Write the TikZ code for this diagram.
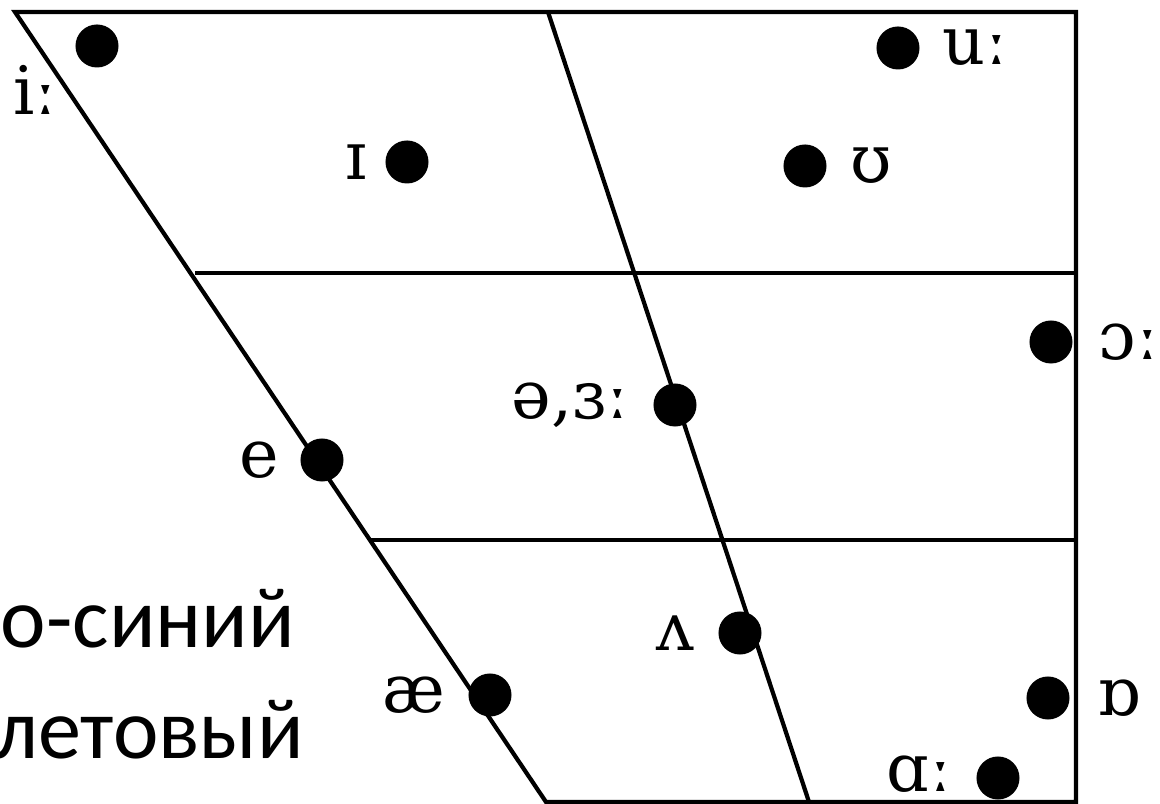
\documentclass[tikz,border=0pt]{standalone}
\usepackage{fontspec}
\newfontfamily\ipafont{DejaVu Serif}
\newfontfamily\notefont{Carlito}
\usetikzlibrary{positioning}

\begin{document}
\begin{tikzpicture}[
    x=0.01cm, y=-0.01cm,
    line width=1.2pt,
    vowel/.style={
        circle,
        fill=black,
        inner sep=0pt,
        minimum size=0.43cm
    },
    sym/.style={
        inner sep=0pt,
        font=\ipafont\fontsize{19}{23}\selectfont
    },
    note/.style={
        inner sep=0pt,
        font=\notefont\fontsize{24.5}{29}\selectfont
    }
]

    \useasboundingbox (0,0) rectangle (1160,804);

    % Chart outline
    \coordinate (tl) at (15,12);
    \coordinate (tm) at (548,12);
    \coordinate (tr) at (1076,12);
    \coordinate (br) at (1076,802);
    \coordinate (bm) at (809,802);
    \coordinate (bl) at (546,802);
    \coordinate (row1) at (195,273);
    \coordinate (row2) at (371,540);

    \draw (tl) -- (tr) -- (br) -- (bl) -- cycle;
    \draw (tm) -- (bm);
    \draw (row1) -- (row1 -| tr);
    \draw (row2) -- (row2 -| tr);

    % Vowels
    \node[vowel] (i) at (97,46) {};
    \node[vowel] (ih) at (407,162) {};
    \node[vowel] (u) at (898,48) {};
    \node[vowel] (uh) at (805,166) {};
    \node[vowel] (oo) at (1051,342) {};
    \node[vowel] (schwa) at (675,405) {};
    \node[vowel] (e) at (322,460) {};
    \node[vowel] (wedge) at (740,633) {};
    \node[vowel] (ae) at (490,695) {};
    \node[vowel] (o) at (1048,698) {};
    \node[vowel] (a) at (998,778) {};

    % Symbols
    \node[sym, anchor=base] (i-lab) at (35,115) {iː};
    \node[sym, left=0.14cm of ih] (ih-lab) {ɪ};
    \node[sym, right=0.19cm of u] (u-lab) {uː};
    \node[sym, right=0.2cm of uh] (uh-lab) {ʊ};
    \node[sym, right=0.22cm of oo] (oo-lab) {ɔː};
    \node[sym, left=0.2cm of schwa] (schwa-lab) {ə,ɜː};
    \node[sym, left=0.17cm of e] (e-lab) {e};
    \node[sym, left=0.2cm of wedge] (wedge-lab) {ʌ};
    \node[sym, left=0.19cm of ae] (ae-lab) {æ};
    \node[sym, right=0.24cm of o] (o-lab) {ɒ};
    \node[sym, left=0.2cm of a, yshift=0.04cm] (a-lab) {ɑː};

    % Side text
    \node[note, anchor=base east] (blue) at (297,648) {о-синий};
    \node[note, anchor=base east] (violet) at (306,759) {летовый};

\end{tikzpicture}
\end{document}
